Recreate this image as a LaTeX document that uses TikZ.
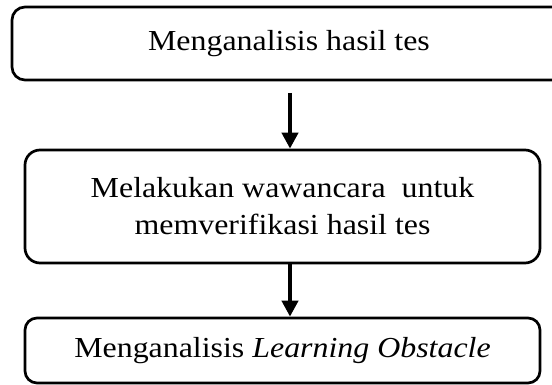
\documentclass[tikz,border=0pt]{standalone}
\usepackage{fontspec}
\setmainfont{Liberation Serif}
\usetikzlibrary{arrows.meta}
\newcommand{\wide}[1]{\scalebox{1.1}[1]{#1}}
\begin{document}
\begin{tikzpicture}[x=1pt,y=1pt,
  stepbox/.style={draw=black, line width=2.7pt, rounded corners=13pt, inner sep=0pt,
    align=center, font=\fontsize{29pt}{37pt}\selectfont},
  arr/.style={line width=4pt, -{Triangle[length=16pt,width=16pt]}}]
\clip (0,0) rectangle (552,-385);
\node[stepbox, minimum width=554pt, minimum height=73pt] (b1) at (289,-43.5) {\wide{Menganalisis hasil tes}};
\node[stepbox, minimum width=515pt, minimum height=113pt, rounded corners=15pt] (b2) at (282.5,-206.5) {\wide{Melakukan wawancara\ \ untuk}\\\wide{memverifikasi hasil tes}};
\node[stepbox, minimum width=515pt, minimum height=65pt, rounded corners=12pt] (b3) at (282.5,-350.5) {\wide{Menganalisis \textit{Learning Obstacle}}};
\coordinate (a1) at (290,-93);
\draw[arr] (a1) -- (a1 |- b2.north);
\draw[arr] (a1 |- b2.south) -- (a1 |- b3.north);
\end{tikzpicture}
\end{document}
